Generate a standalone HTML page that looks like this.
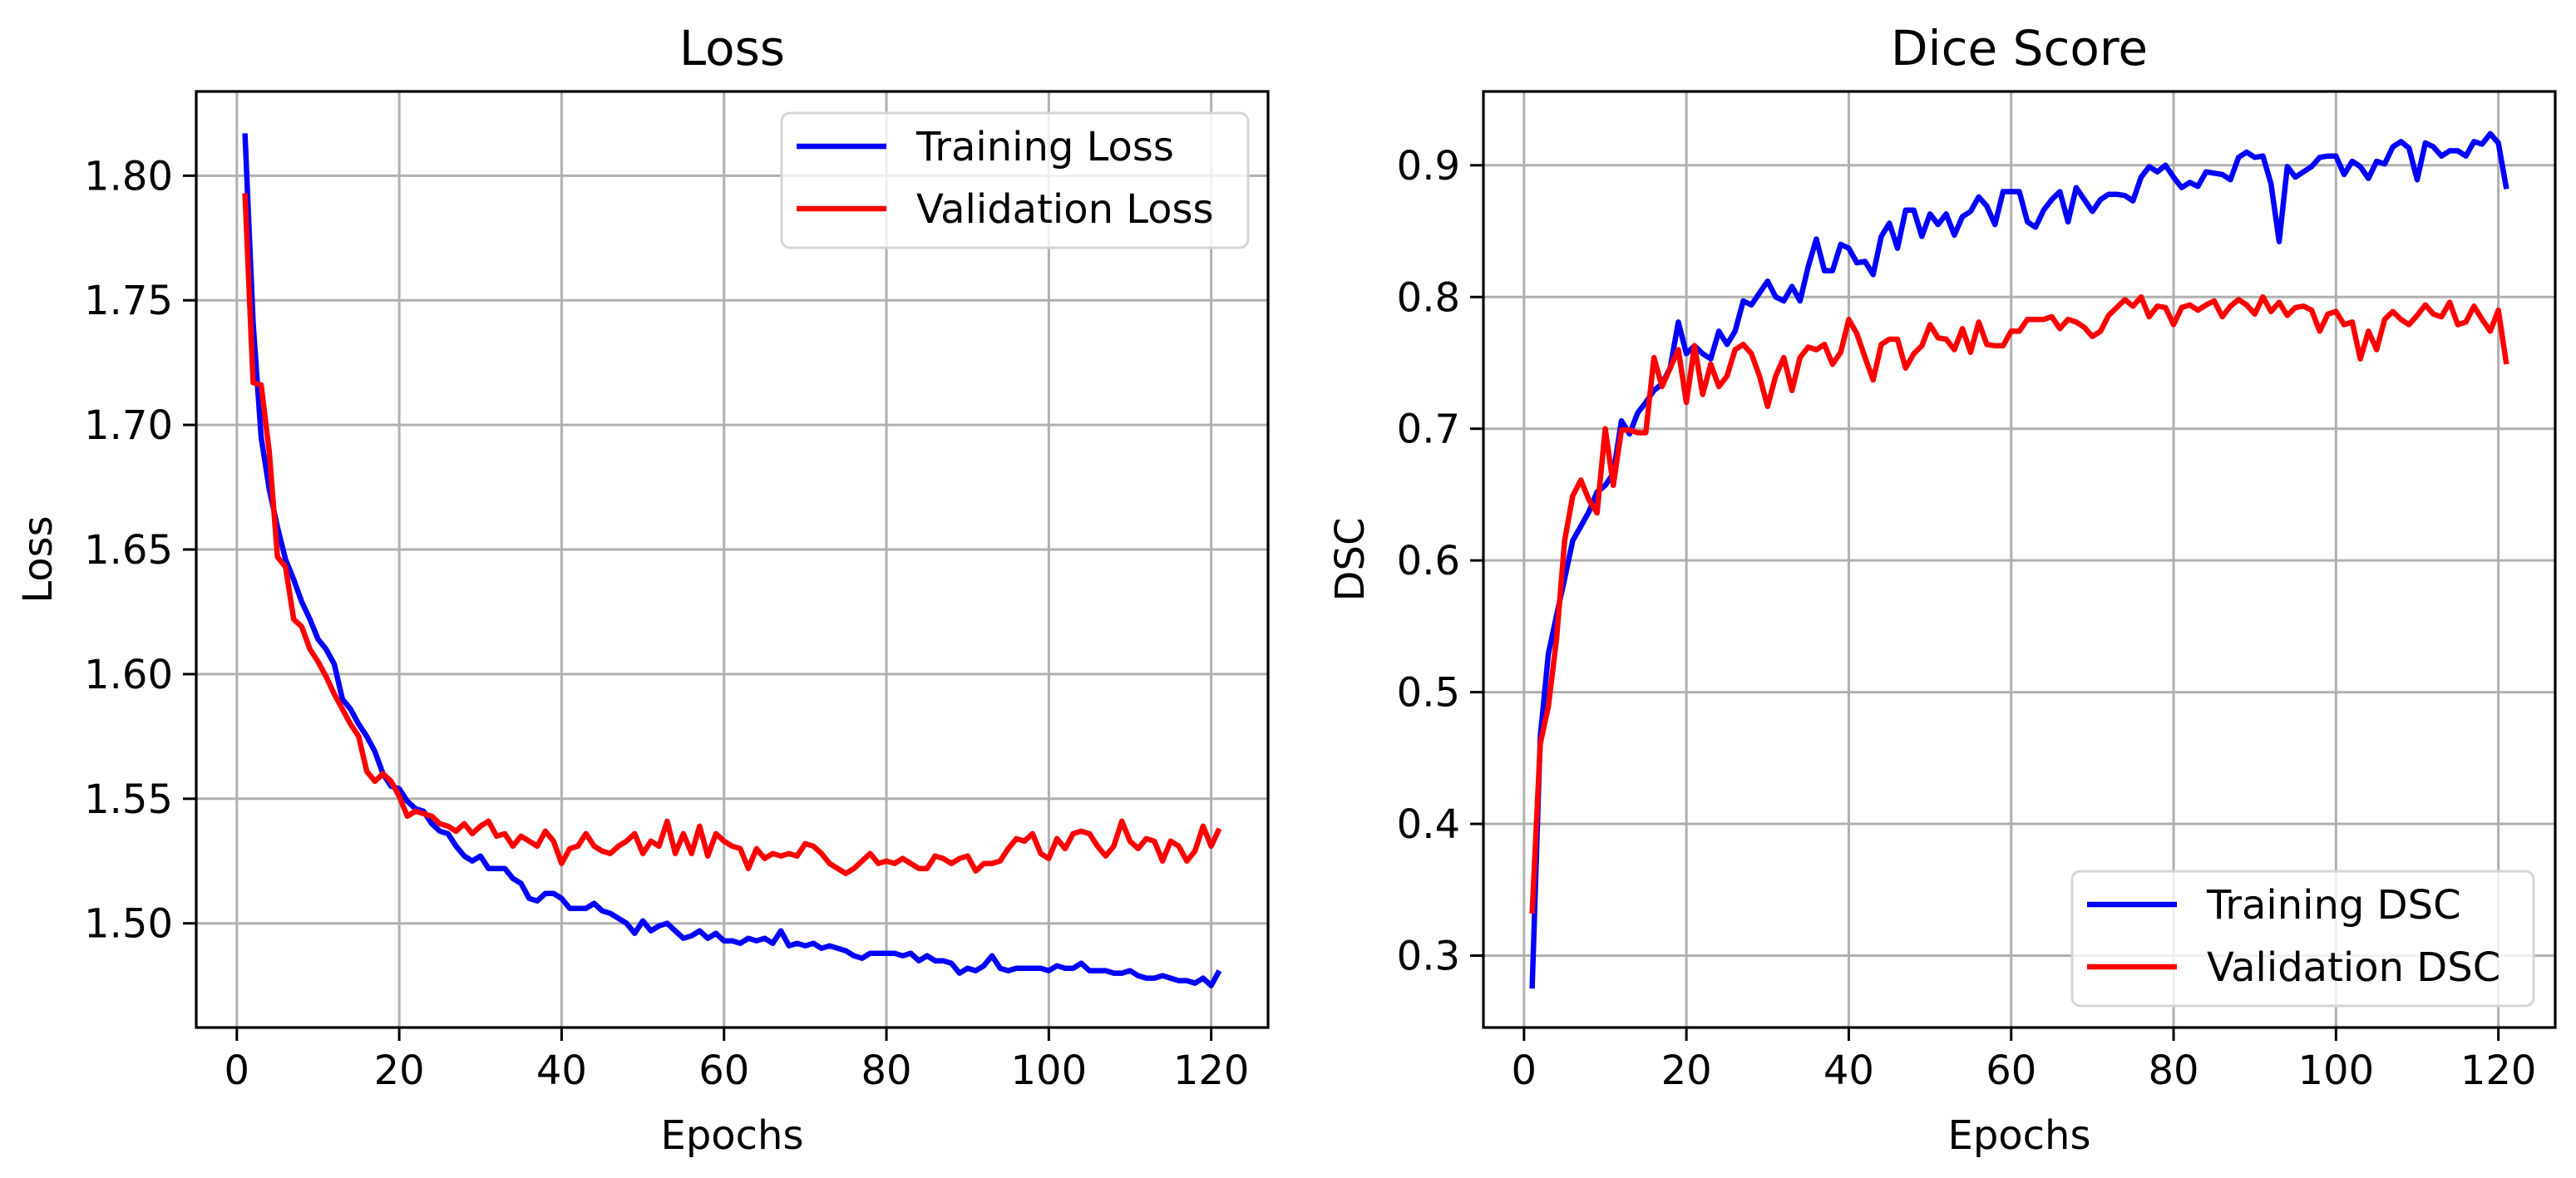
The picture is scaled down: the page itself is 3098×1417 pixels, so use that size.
<!DOCTYPE html>
<html><head><meta charset="utf-8"><style>
html,body{margin:0;padding:0;background:#fff;}
svg{display:block;font-family:"DejaVu Sans","Liberation Sans",sans-serif;}
</style></head><body>
<svg id="fig" width="3098" height="1417" viewBox="0 0 3098 1417" xmlns="http://www.w3.org/2000/svg">
<rect width="3098" height="1417" fill="#fff"/>
</svg>
<script>
const epochs = Array.from({length:121},(_,i)=>i+1);
const trainLoss = [1.817,1.741,1.695,1.674,1.659,1.646,1.638,1.629,1.622,1.614,1.610,1.604,1.590,1.586,1.580,1.575,1.569,1.560,1.555,1.554,1.549,1.546,1.545,1.540,1.537,1.536,1.531,1.527,1.525,1.527,1.522,1.522,1.522,1.518,1.516,1.510,1.509,1.512,1.512,1.510,1.506,1.506,1.506,1.508,1.505,1.504,1.502,1.500,1.496,1.501,1.497,1.499,1.500,1.497,1.494,1.495,1.497,1.494,1.496,1.493,1.493,1.492,1.494,1.493,1.494,1.492,1.497,1.491,1.492,1.491,1.492,1.490,1.491,1.490,1.489,1.487,1.486,1.488,1.488,1.488,1.488,1.487,1.488,1.485,1.487,1.485,1.485,1.484,1.480,1.482,1.481,1.483,1.487,1.482,1.481,1.482,1.482,1.482,1.482,1.481,1.483,1.482,1.482,1.484,1.481,1.481,1.481,1.480,1.480,1.481,1.479,1.478,1.478,1.479,1.478,1.477,1.477,1.476,1.478,1.475,1.481];
const valLoss = [1.793,1.717,1.716,1.689,1.647,1.643,1.622,1.619,1.610,1.605,1.599,1.592,1.586,1.580,1.575,1.561,1.557,1.560,1.557,1.551,1.543,1.545,1.544,1.543,1.540,1.539,1.537,1.540,1.536,1.539,1.541,1.535,1.536,1.531,1.535,1.533,1.531,1.537,1.533,1.524,1.530,1.531,1.536,1.531,1.529,1.528,1.531,1.533,1.536,1.528,1.533,1.531,1.541,1.528,1.536,1.528,1.539,1.527,1.536,1.533,1.531,1.530,1.522,1.530,1.526,1.528,1.527,1.528,1.527,1.532,1.531,1.528,1.524,1.522,1.520,1.522,1.525,1.528,1.524,1.525,1.524,1.526,1.524,1.522,1.522,1.527,1.526,1.524,1.526,1.527,1.521,1.524,1.524,1.525,1.530,1.534,1.533,1.536,1.528,1.526,1.534,1.530,1.536,1.537,1.536,1.531,1.527,1.531,1.541,1.533,1.530,1.534,1.533,1.525,1.533,1.531,1.525,1.529,1.539,1.531,1.538];
const trainDSC = [0.275,0.466,0.529,0.558,0.586,0.615,0.626,0.637,0.652,0.657,0.666,0.706,0.696,0.712,0.720,0.729,0.734,0.746,0.781,0.757,0.763,0.757,0.753,0.774,0.764,0.774,0.797,0.794,0.803,0.812,0.800,0.797,0.808,0.797,0.823,0.844,0.820,0.820,0.840,0.837,0.826,0.827,0.817,0.846,0.856,0.837,0.866,0.866,0.846,0.863,0.855,0.863,0.847,0.861,0.865,0.876,0.869,0.855,0.880,0.880,0.880,0.857,0.853,0.866,0.874,0.880,0.857,0.883,0.874,0.865,0.874,0.878,0.878,0.877,0.873,0.891,0.899,0.895,0.900,0.891,0.883,0.887,0.884,0.895,0.894,0.893,0.889,0.906,0.910,0.906,0.907,0.886,0.842,0.899,0.891,0.895,0.899,0.906,0.907,0.907,0.893,0.903,0.899,0.890,0.903,0.901,0.914,0.918,0.913,0.889,0.917,0.914,0.907,0.911,0.911,0.907,0.918,0.916,0.924,0.917,0.882];
const valDSC = [0.332,0.461,0.489,0.540,0.615,0.649,0.661,0.646,0.636,0.700,0.657,0.699,0.699,0.697,0.697,0.754,0.732,0.746,0.760,0.720,0.763,0.726,0.749,0.732,0.740,0.760,0.764,0.757,0.740,0.717,0.740,0.754,0.729,0.754,0.762,0.760,0.764,0.749,0.758,0.783,0.772,0.754,0.737,0.764,0.768,0.768,0.746,0.757,0.763,0.779,0.769,0.768,0.760,0.776,0.758,0.781,0.764,0.763,0.763,0.774,0.774,0.783,0.783,0.783,0.785,0.776,0.783,0.781,0.777,0.770,0.774,0.786,0.792,0.798,0.793,0.800,0.785,0.793,0.792,0.779,0.792,0.794,0.790,0.794,0.797,0.785,0.793,0.798,0.794,0.787,0.800,0.789,0.796,0.786,0.792,0.793,0.790,0.774,0.787,0.789,0.779,0.781,0.753,0.774,0.760,0.783,0.789,0.783,0.779,0.786,0.794,0.787,0.785,0.796,0.779,0.781,0.793,0.783,0.774,0.790,0.749];
const xTicks = [0,20,40,60,80,100,120];
const lossTicks = [1.50,1.55,1.60,1.65,1.70,1.75,1.80];
const dscTicks = [0.3,0.4,0.5,0.6,0.7,0.8,0.9];

const NS="http://www.w3.org/2000/svg";
const svg=document.getElementById('fig');
function mk(tag,attrs,parent,text){const e=document.createElementNS(NS,tag);for(const k in attrs)e.setAttribute(k,attrs[k]);if(text!==undefined)e.textContent=text;(parent||svg).appendChild(e);return e;}

function panel(cfg){
  const g=mk('g',{});
  
  
  const L=cfg.left,R=cfg.right,T=cfg.top,B=cfg.bottom;
  const xs=v=>L+(v-(-5))/(127-(-5))*(R-L);
  const ys=v=>T+(cfg.ymax-v)/(cfg.ymax-cfg.ymin)*(B-T);
  xTicks.forEach(t=>{const l=mk('line',{x1:xs(t),x2:xs(t),y1:T,y2:B,stroke:'#b0b0b0','stroke-width':3},g);
    });
  cfg.yTicks.forEach(t=>{const l=mk('line',{x1:L,x2:R,y1:ys(t),y2:ys(t),stroke:'#b0b0b0','stroke-width':3},g);
    });
  cfg.series.forEach(s=>{
    const d=epochs.map((e,i)=>(i?'L':'M')+xs(e).toFixed(1)+','+ys(s.data[i]).toFixed(1)).join('');
    const p=mk('path',{d:d,fill:'none',stroke:s.color,'stroke-width':6.5,'stroke-linejoin':'round'},g);
    
    
  });
  const sp=mk('rect',{x:L,y:T,width:R-L,height:B-T,fill:'none',stroke:'#000','stroke-width':3.2},g);
  
  xTicks.forEach(t=>{mk('line',{x1:xs(t),x2:xs(t),y1:B,y2:B+16,stroke:'#000','stroke-width':3},g);
    const tx=mk('text',{x:xs(t),y:B+68,'font-size':48,'text-anchor':'middle',fill:'#000'},g,String(t));
    });
  cfg.yTicks.forEach(t=>{mk('line',{x1:L-16,x2:L,y1:ys(t),y2:ys(t),stroke:'#000','stroke-width':3},g);
    const tx=mk('text',{x:L-28,y:ys(t)+17,'font-size':48,'text-anchor':'end',fill:'#000'},g,t.toFixed(cfg.dec));
    });
  const ti=mk('text',{x:(L+R)/2,y:T-32,'font-size':58,'text-anchor':'middle',fill:'#000'},g,cfg.title);
  
  const xl=mk('text',{x:(L+R)/2,y:B+146,'font-size':48,'text-anchor':'middle',fill:'#000'},g,'Epochs');
  
  const yl=mk('text',{x:0,y:0,'font-size':48,'text-anchor':'middle',fill:'#000',transform:`translate(${cfg.ylabelX},${(T+B)/2}) rotate(-90)`},g,cfg.ylabel);
  
  const lg=mk('g',{},g);
  
  const lb=cfg.legend;
  mk('rect',{x:lb.x,y:lb.y,width:lb.w,height:lb.h,rx:10,fill:'#fff','fill-opacity':0.8,stroke:'#d6d6d6','stroke-width':3},lg);
  cfg.series.forEach((s,i)=>{
    const ry=lb.y+40+i*75;
    const en=mk('g',{},lg);
    
    mk('line',{x1:lb.x+18,x2:lb.x+126,y1:ry,y2:ry,stroke:s.color,'stroke-width':6.5},en);
    mk('text',{x:lb.x+162,y:ry+17,'font-size':48,fill:'#000'},en,s.label);
  });
}

panel({name:'loss-panel',left:236,right:1525,top:110,bottom:1236,ymin:1.4582,ymax:1.8338,yTicks:lossTicks,dec:2,
  title:'Loss',ylabel:'Loss',ylabelX:62,
  legend:{x:940,y:136,w:561,h:162},
  series:[{name:'training-loss-line',label:'Training Loss',color:'#0000ff',data:trainLoss},
          {name:'validation-loss-line',label:'Validation Loss',color:'#ff0000',data:valLoss}]});
panel({name:'dice-panel',left:1784,right:3073,top:110,bottom:1236,ymin:0.9-(1236-198.8)/1584.5,ymax:0.9+(198.8-110)/1584.5,yTicks:dscTicks,dec:1,
  title:'Dice Score',ylabel:'DSC',ylabelX:1640,
  legend:{x:2492,y:1048,w:555,h:162},
  series:[{name:'training-dsc-line',label:'Training DSC',color:'#0000ff',data:trainDSC},
          {name:'validation-dsc-line',label:'Validation DSC',color:'#ff0000',data:valDSC}]});
</script>
</body></html>
